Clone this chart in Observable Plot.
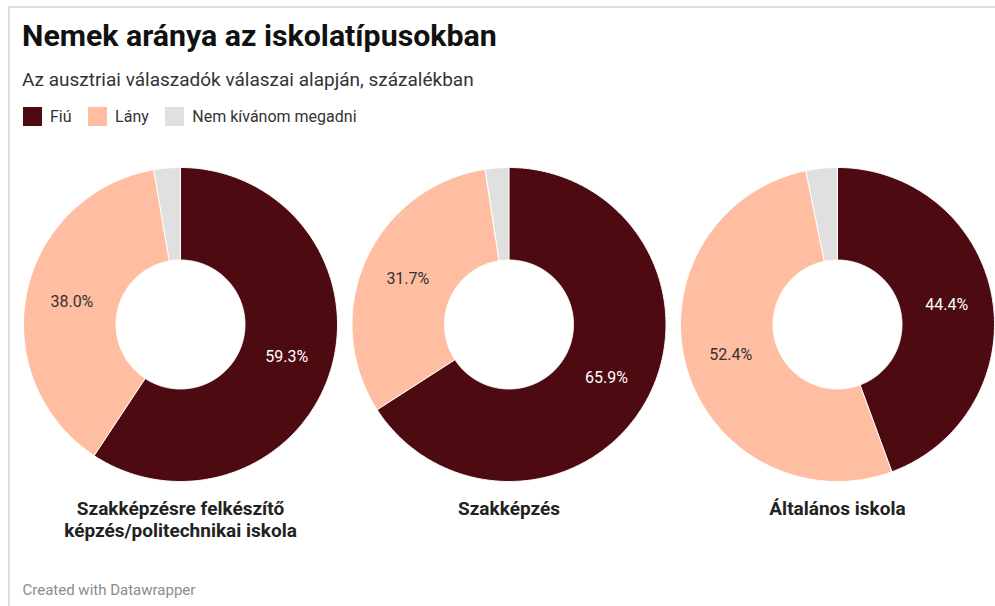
<!DOCTYPE html>
<html>
<head>
<meta charset="utf-8">
<script src="https://cdn.jsdelivr.net/npm/d3@7"></script>
<script src="https://cdn.jsdelivr.net/npm/@observablehq/plot@0.6"></script>
<style>
  html, body { margin: 0; padding: 0; background: #fff; }
  body { font-family: Roboto, "Noto Sans", sans-serif; }
  #wrap { position: relative; width: 995px; height: 606px; overflow: hidden; background: #fff; }
  #frame { position: absolute; left: 8px; top: 6px; width: 1000px; height: 620px;
           border-top: 2px solid #dcdcdc; border-left: 2px solid #dcdcdc; }
  #title { position: absolute; left: 22px; top: 18px; font-size: 30.3px; line-height: 36px; font-weight: 700; color: #111; white-space: nowrap; }
  #subtitle { position: absolute; left: 22px; top: 69px; font-size: 19px; line-height: 22.8px; color: #333; white-space: nowrap; }
  #legend { position: absolute; left: 22.5px; top: 107px; display: flex; align-items: center; font-size: 16px; color: #333; }
  .sw { width: 19px; height: 19px; margin-right: 8.5px; }
  .lt { margin-right: 16px; line-height: 19px; }
  #chart { position: absolute; left: 0; top: 140px; }
  #footer { position: absolute; left: 22.5px; top: 581px; font-size: 15px; line-height: 18px; color: #8c8c8c; white-space: nowrap; }
</style>
</head>
<body>
<div id="wrap">
  <div id="frame"></div>
  <div id="title">Nemek aránya az iskolatípusokban</div>
  <div id="subtitle">Az ausztriai válaszadók válaszai alapján, százalékban</div>
  <div id="legend"></div>
  <div id="chart"></div>
  <div id="footer">Created with Datawrapper</div>
</div>
<script>
// ---- data ----
const categories = ["Szakképzésre felkészítő képzés/politechnikai iskola", "Szakképzés", "Általános iskola"];
const categoryLabels = ["Szakképzésre felkészítő\nképzés/politechnikai iskola", "Szakképzés", "Általános iskola"];
const genders = ["Fiú", "Lány", "Nem kívánom megadni"];
const fiu  = [59.3, 65.9, 44.4];
const lany = [38.0, 31.7, 52.4];
const nem  = [2.7, 2.4, 3.2];
const colors = ["#4e0a11", "#ffbea1", "#e0e0e0"];
const labelColors = ["#ffffff", "#333333", null];

// ---- legend ----
const legend = document.getElementById("legend");
genders.forEach((g, i) => {
  const sw = document.createElement("div");
  sw.className = "sw"; sw.style.background = colors[i];
  const t = document.createElement("div");
  t.className = "lt"; t.textContent = g;
  legend.appendChild(sw); legend.appendChild(t);
});

// ---- geometry ----
const R = 157, r0 = 64.5, rLabel = 111;
const pie = d3.pie().sort(null).value(d => d.value);
const polys = [];
const labels = [];
categories.forEach((cat, ci) => {
  const vals = [fiu[ci], lany[ci], nem[ci]].map((v, gi) => ({cat, gender: genders[gi], gi, value: v}));
  pie(vals).forEach(a => {
    const id = cat + "|" + a.data.gender;
    const a0 = a.startAngle, a1 = a.endAngle;
    const n = Math.max(2, Math.ceil((a1 - a0) / (Math.PI / 360)));
    for (let k = 0; k <= n; k++) {
      const t = a0 + (a1 - a0) * k / n;
      polys.push({cat, gender: a.data.gender, id, x: R * Math.sin(t), y: R * Math.cos(t)});
    }
    for (let k = n; k >= 0; k--) {
      const t = a0 + (a1 - a0) * k / n;
      polys.push({cat, gender: a.data.gender, id, x: r0 * Math.sin(t), y: r0 * Math.cos(t)});
    }
    if (labelColors[a.data.gi]) {
      const m = (a0 + a1) / 2;
      labels.push({cat, x: rLabel * Math.sin(m), y: rLabel * Math.cos(m),
                   text: a.data.value.toFixed(1) + "%", color: labelColors[a.data.gi]});
    }
  });
});
const catData = categories.map((c, i) => ({cat: c, label: categoryLabels[i]}));

const step = 328.5, band = 316;
const chart = Plot.plot({
  width: 995,
  height: 420,
  marginLeft: 22,
  marginRight: 0,
  marginTop: 0,
  marginBottom: 0,
  style: {fontFamily: "Roboto, 'Noto Sans', sans-serif", background: "transparent"},
  fx: {domain: categories, paddingInner: (step - band) / step, paddingOuter: 0, round: false, axis: null},
  x: {domain: [-158, 158], axis: null},
  y: {domain: [-236, 184], axis: null},
  color: {domain: genders, range: colors},
  marks: [
    Plot.line(polys, {fx: "cat", x: "x", y: "y", z: "id", fill: "gender", stroke: "white",
                      strokeWidth: 1, strokeLinejoin: "round", curve: "linear-closed"}),
    Plot.text(labels, {fx: "cat", x: "x", y: "y", text: "text", fill: d => d.color,
                       fontSize: 16}),
    Plot.text(catData, {fx: "cat", x: 0, y: -175, text: "label", lineAnchor: "top",
                        fontSize: 19, fontWeight: "bold", lineHeight: 1.15, fill: "#222"})
  ]
});
document.getElementById("chart").appendChild(chart);
</script>
</body>
</html>
